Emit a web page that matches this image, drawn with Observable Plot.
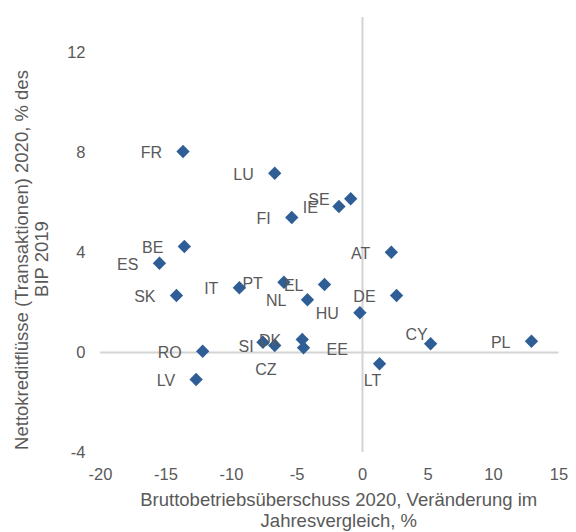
<!DOCTYPE html>
<html>
<head>
<meta charset="utf-8">
<script src="https://cdn.jsdelivr.net/npm/d3@7"></script>
<script src="https://cdn.jsdelivr.net/npm/@observablehq/plot@0.6"></script>
<style>
  html, body { margin: 0; padding: 0; background: #ffffff; }
  #chart svg { display: block; }
</style>
</head>
<body>
<div id="chart"></div>
<script>
// ---- Data ----
const countries = ["FR","LU","SE","IE","FI","BE","AT","ES","PT","EL","IT","SK","NL","DE","HU","CY","PL","LT","RO","LV","SI","DK","CZ","EE"];
const surplusChange = [-13.7,-6.7,-0.9,-1.8,-5.4,-13.6,2.2,-15.5,-6.0,-2.9,-9.4,-14.2,-4.2,2.6,-0.2,5.2,12.9,1.3,-12.2,-12.7,-6.7,-4.6,-7.6,-4.5];
const creditFlows = [8.04,7.17,6.15,5.84,5.40,4.24,4.01,3.57,2.81,2.72,2.59,2.28,2.11,2.28,1.59,0.35,0.45,-0.45,0.05,-1.08,0.28,0.52,0.41,0.19];
const xTicks = [-20,-15,-10,-5,0,5,10,15];
const yTicks = [-4,0,4,8,12];
const xTitle = ["Bruttobetriebsüberschuss 2020, Veränderung im", "Jahresvergleich, %"];
const yTitle = ["Nettokreditflüsse (Transaktionen) 2020, % des", "BIP 2019"];

// ---- Layout / style (kept separate from data) ----
const font = "'Liberation Sans', Arial, sans-serif";
const grey = "#595959";
const defaultPlacement = {anchor: "end", dx: -21, dy: 1.5};
const labelPlacement = {
  CY: {anchor: "end", dx: -3, dy: -9},
  LT: {anchor: "middle", dx: -7, dy: 17},
  CZ: {anchor: "middle", dx: 3, dy: 28},
  EE: {anchor: "start", dx: 23, dy: 2}
};

const rows = countries.map((c, i) => ({country: c, x: surplusChange[i], y: creditFlows[i]}));

const placementGroups = d3.groups(rows, d => JSON.stringify(labelPlacement[d.country] || defaultPlacement));
const labelMarks = placementGroups.map(([key, data]) => {
  const p = JSON.parse(key);
  return Plot.text(data, {
    x: "x", y: "y", text: "country",
    textAnchor: p.anchor, dx: p.dx, dy: p.dy,
    fill: grey, fontSize: 16, fontFamily: font
  });
});

const chart = Plot.plot({
  width: 576,
  height: 532,
  marginLeft: 100,
  marginRight: 17.5,
  marginTop: 17,
  marginBottom: 80,
  style: {fontFamily: font, color: grey, background: "#ffffff", overflow: "visible"},
  x: {domain: [-20, 15]},
  y: {domain: [-4, 13.4]},
  marks: [
    Plot.ruleY([0], {stroke: "#d4d4d4", strokeWidth: 2}),
    Plot.ruleX([0], {stroke: "#d4d4d4", strokeWidth: 2}),
    Plot.axisX({ticks: xTicks, tickSize: 0, tickPadding: 16, tickFormat: d => String(d), fontSize: 16.5, label: null, fill: grey}),
    Plot.axisY({ticks: yTicks, tickSize: 0, tickPadding: 15, tickFormat: d => String(d), fontSize: 16.5, label: null, fill: grey}),
    Plot.dot(rows, {x: "x", y: "y", symbol: "diamond2", r: 6, fill: "#2f5e97", stroke: "none"}),
    ...labelMarks,
    Plot.text([xTitle[0]], {frameAnchor: "bottom", text: d => d, dx: 9, dy: 48, lineAnchor: "middle", textAnchor: "middle", fill: grey, fontSize: 18.5, fontFamily: font}),
    Plot.text([xTitle[1]], {frameAnchor: "bottom", text: d => d, dx: 9, dy: 69, lineAnchor: "middle", textAnchor: "middle", fill: grey, fontSize: 18.5, fontFamily: font}),
    Plot.text([yTitle[0]], {frameAnchor: "left", text: d => d, rotate: -90, dx: -78, dy: 25, lineAnchor: "middle", textAnchor: "middle", fill: grey, fontSize: 18.5, fontFamily: font}),
    Plot.text([yTitle[1]], {frameAnchor: "left", text: d => d, rotate: -90, dx: -58, dy: 24, lineAnchor: "middle", textAnchor: "middle", fill: grey, fontSize: 18.5, fontFamily: font})
  ]
});
document.getElementById("chart").appendChild(chart);
</script>
</body>
</html>
